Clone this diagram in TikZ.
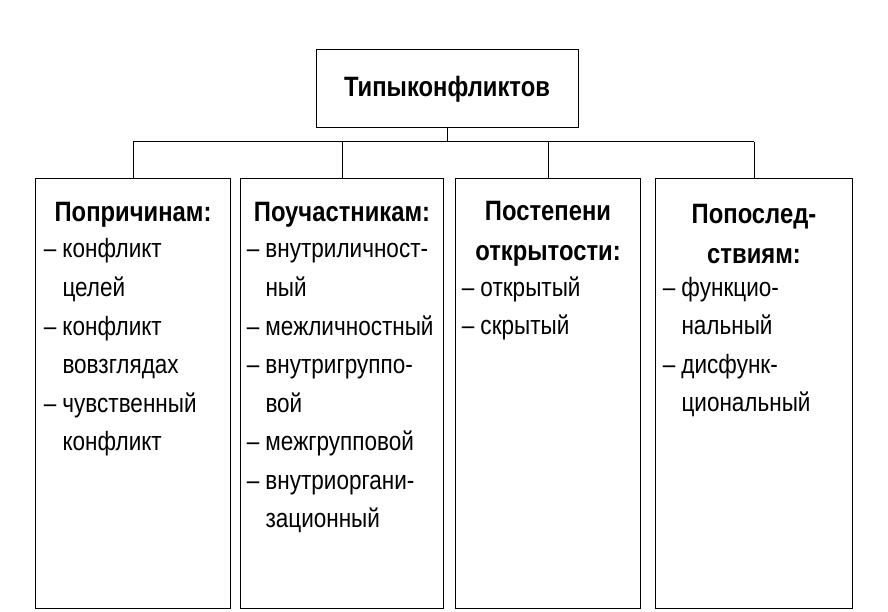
\documentclass[tikz,border=0pt]{standalone}
\usepackage{fontspec}
\setmainfont[FakeStretch=0.85]{Liberation Sans}
\begin{document}
\begin{tikzpicture}[x=1pt, y=-1pt, line width=1pt,
    box/.style={draw, anchor=north west, inner sep=0pt},
    item/.style={anchor=west, inner sep=0pt, text height=14pt, text depth=4pt,
        font=\fontsize{26.5}{30}\selectfont},
    head/.style={inner sep=0pt, font=\bfseries\fontsize{28}{30}\selectfont}]
    \useasboundingbox (0, 0) rectangle (888, 612);
    % Top
    \node [draw, minimum width=262, minimum height=78] (top) at (447, 89) {};
    \node [head] at (top) {Типыконфликтов};
    \coordinate (bus) at (447, 142);
    % Boxes
    \node [box, minimum width=195, minimum height=430] (b1) at (35, 178) {};
    \node [box, minimum width=203, minimum height=430] (b2) at (240, 178) {};
    \node [box, minimum width=185, minimum height=430] (b3) at (455, 178) {};
    \node [box, minimum width=197, minimum height=430] (b4) at (655, 178) {};
    %% Connectors
    \draw (top.south) -- (bus);
    \foreach \b in {b1, b2, b3, b4}
        \draw (bus -| \b.north) -- (\b.north);
    \draw (bus -| b1.north) -- (bus -| b4.north);
    %% Headings
    \node [head] at (b1.north |- 0, 215) {Попричинам:};
    \node [head] at (b2.north |- 0, 215) {Поучастникам:};
    \node [head, align=center] at (b3.north |- 0, 234) {Постепени\\[10pt]открытости:};
    \node [head, align=center] at (b4.north |- 0, 234) {Попослед-\\[10pt]ствиям:};
    %% Items
    \foreach \d/\t [count=\i] in {1/конфликт, 0/целей, 1/конфликт, 0/вовзглядах,
        1/чувственный, 0/конфликт}
        \node [item] at (62, 253+38.5*\i-38.5) {\ifnum\d=1\llap{–\hspace{6pt}}\fi\t};
    \foreach \d/\t [count=\i] in {1/внутриличност-, 0/ный, 1/межличностный,
        1/внутригруппо-, 0/вой, 1/межгрупповой, 1/внутриоргани-, 0/зационный}
        \node [item] at (265, 253+38.5*\i-38.5) {\ifnum\d=1\llap{–\hspace{6pt}}\fi\t};
    \foreach \d/\t [count=\i] in {1/открытый, 1/скрытый}
        \node [item] at (480, 291+38.5*\i-38.5) {\ifnum\d=1\llap{–\hspace{6pt}}\fi\t};
    \foreach \d/\t [count=\i] in {1/функцио-, 0/нальный, 1/дисфунк-, 0/циональный}
        \node [item] at (681, 291+38.5*\i-38.5) {\ifnum\d=1\llap{–\hspace{6pt}}\fi\t};
\end{tikzpicture}
\end{document}
